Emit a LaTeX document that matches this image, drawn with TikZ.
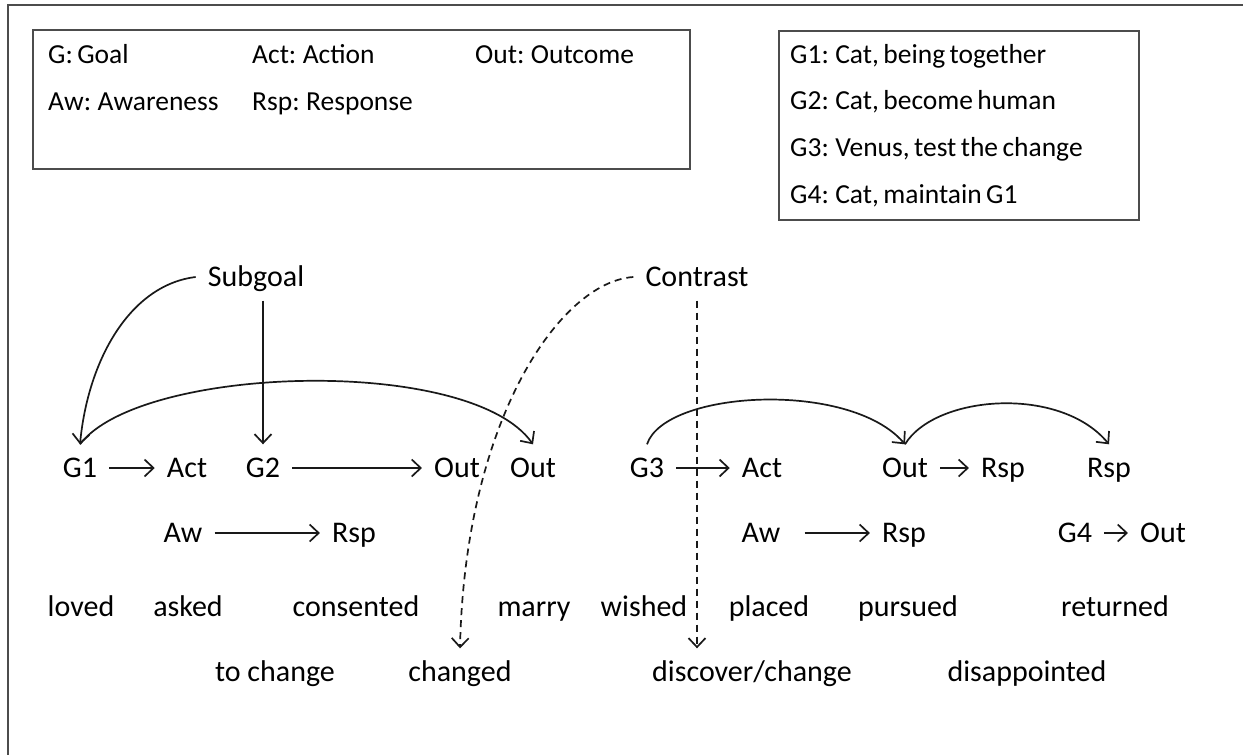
\documentclass[tikz,border=0pt]{standalone}
\usepackage{fontspec}
\setmainfont{Carlito}
\usetikzlibrary{arrows.meta}
\newcommand\keyfont{\fontsize{27.5}{31}\selectfont\spaceskip=0.16em\relax}
\begin{document}
\begin{tikzpicture}[x=1pt,y=-1pt,
  word/.style={font=\fontsize{30}{33}\selectfont, text height=19pt, text depth=0pt,
               inner xsep=12pt, inner ysep=14pt},
  key/.style={font=\keyfont, anchor=west, inner sep=0pt,
              text height=17.4pt, text depth=0pt},
  frame/.style={draw=black!70, line width=2.2pt},
  link/.style={draw=black!90, line width=1.7pt,
               -{Straight Barb[length=9pt,width=17pt,line width=1.7pt]}},
  hint/.style={link, dash pattern=on 7pt off 5pt}]
\useasboundingbox (0,0) rectangle (1243,755);
\fill[white] (0,0) rectangle (1243,755);

% outer frame (top and left edges)
\draw[frame] (8,755) |- (1243,5);

% legend boxes
\draw[frame, line width=2pt] (33,30) rectangle (690,169);
\draw[frame, line width=2pt] (779,31) rectangle (1139,220);

\node[key] (kG)   at (48,55)  {G: Goal};
\node[key] (kAct) at (252,55) {Act: Action};
\node[key] (kOut) at (475,55) {Out: Outcome};
\node[key] (kAw)  at (48,102) {Aw: Awareness};
\node[key] (kRsp) at (252,102) {Rsp: Response};

\node[key] (g1) at (790,55)  {G1: Cat, being together};
\node[key] (g2) at (790,101) {G2: Cat, become human};
\node[key] (g3) at (790,148) {G3: Venus, test the change};
\node[key] (g4) at (790,195) {G4: Cat, maintain G1};

% relation labels
\node[word] (sub) at (256,277) {Subgoal};
\node[word] (con) at (697,277) {Contrast};

% first row: goals, actions, outcomes
\node[word] (G1)   at (80,468)   {G1};
\node[word] (A1)   at (187,468)  {Act};
\node[word] (G2)   at (263,468)  {G2};
\node[word] (O1)   at (457,468)  {Out};
\node[word] (O2)   at (533,468)  {Out};
\node[word] (G3)   at (647,468)  {G3};
\node[word] (A2)   at (762,468)  {Act};
\node[word] (O3)   at (905,468)  {Out};
\node[word] (R1)   at (1003,468) {Rsp};
\node[word] (R2)   at (1109,468) {Rsp};

% second row
\node[word] (W1)   at (183,533)  {Aw};
\node[word] (R3)   at (354,533)  {Rsp};
\node[word] (W2)   at (761,533)  {Aw};
\node[word] (R4)   at (904,533)  {Rsp};
\node[word] (G4)   at (1075,533) {G4};
\node[word] (O4)   at (1163,533) {Out};

% verbs
\node[word] (v1)  at (81,607)   {loved};
\node[word] (v2)  at (188,607)  {asked};
\node[word] (v3)  at (356,607)  {consented};
\node[word] (v4)  at (534,607)  {marry};
\node[word] (v5)  at (644,607)  {wished};
\node[word] (v6)  at (769,607)  {placed};
\node[word] (v7)  at (908,607)  {pursued};
\node[word] (v8)  at (1115,607) {returned};
\node[word] (v9)  at (275,672)  {to change};
\node[word] (v10) at (460,672)  {changed};
\node[word] (v11) at (752,672)  {discover/change};
\node[word] (v12) at (1027,672) {disappointed};

% straight links
\draw[link] (G1) -- (A1);
\draw[link] (G2) -- (O1);
\draw[link] (W1) -- (R3);
\draw[link] (G3) -- (A2);
\draw[link] (O3) -- (R1);
\draw[link, shorten <=12pt] (W2) -- (R4);
\draw[link] (G4) -- (O4);

% subgoal links
\draw[link] (sub.west) .. controls (130,285) and (88,360) .. (G1.north);
\draw[link] (sub.south -| G2.north) -- (G2.north);

% goal arcs
\draw[link] (G1.north) .. controls (140,365) and (470,355) .. (O2.north);
\draw[link] (G3.north) .. controls (665,390) and (850,380) .. (O3.north);
\draw[link] (O3.north) .. controls (935,395) and (1060,385) .. (R2.north);

% contrast links
\draw[hint] (con.west) .. controls (560,282) and (465,420) .. (v10.north);
\draw[hint] (con.south) -- (con.south |- v11.north);
\end{tikzpicture}
\end{document}
